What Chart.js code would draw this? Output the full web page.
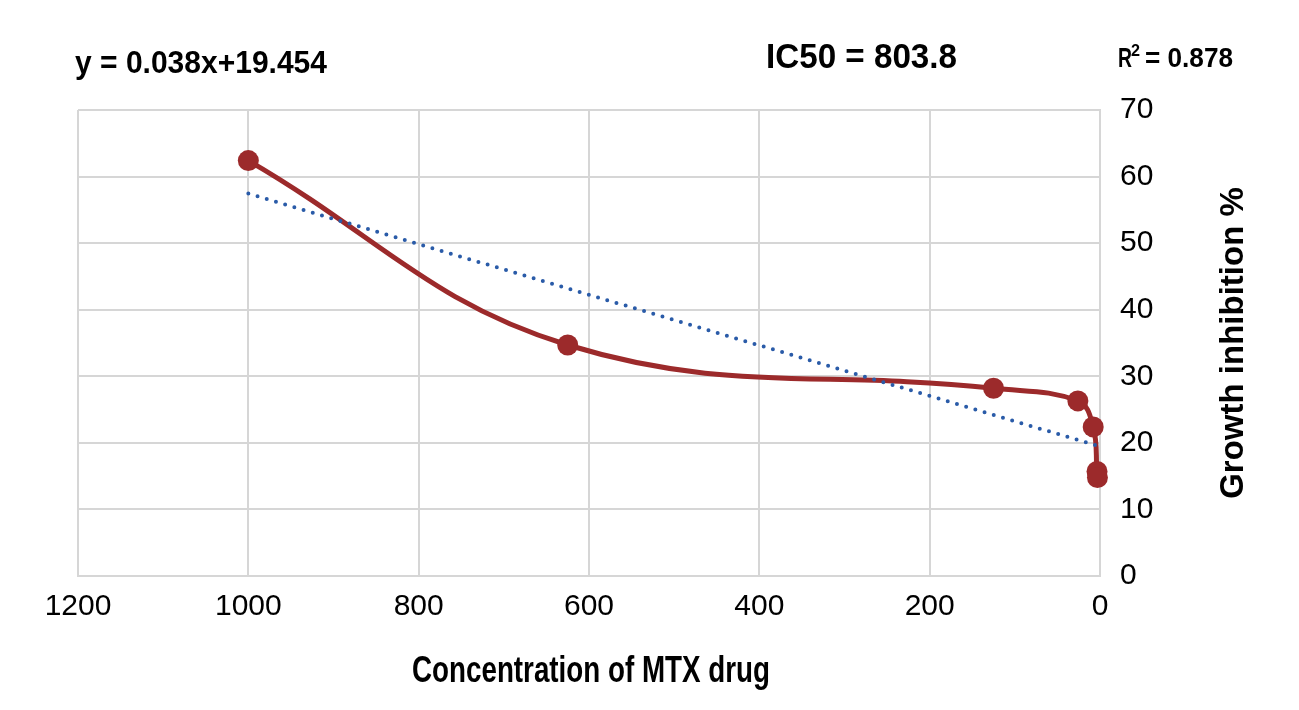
<!DOCTYPE html>
<html>
<head>
<meta charset="utf-8">
<script src="https://cdn.jsdelivr.net/npm/chart.js@4.4.1/dist/chart.umd.min.js"></script>
<style>
  html, body { margin: 0; padding: 0; background: #fff; }
  #wrap { width: 1299px; height: 710px; }
</style>
</head>
<body>
<div id="wrap"><canvas id="chart" width="1299" height="710"></canvas></div>
<script>
// values
const concentration = [1000, 625, 125, 26, 8, 3.5, 3];
const inhibition = [62.4, 34.7, 28.2, 26.3, 22.4, 15.7, 14.8];
// linear trendline end points
const trendX = [1000, 0];
const trendY = [57.45, 19.45];
const xTicks = [1200, 1000, 800, 600, 400, 200, 0];
const yTicks = [0, 10, 20, 30, 40, 50, 60, 70];
const equationText = 'y = 0.038x+19.454';
const ic50Text = 'IC50 = 803.8';
const r2Text = '0.878';
const xTitle = 'Concentration of MTX drug';
const yTitle = 'Growth inhibition %';

const RED = '#9c2a2b';
const BLUE = '#2a5ba8';
const GRID = '#d6d6d6';
const PLAIN = '"Liberation Sans", Arial, Helvetica, sans-serif';

// bold text squeezed horizontally to span the given width (condensed look)
function squeezed(ctx, text, x, y, size, width, align) {
  ctx.save();
  ctx.font = 'bold ' + size + 'px ' + PLAIN;
  const w = ctx.measureText(text).width;
  const sx = width / w;
  let left = x;
  if (align === 'center') left = x - width / 2;
  ctx.translate(left, y);
  ctx.scale(sx, 1);
  ctx.textAlign = 'left';
  ctx.fillText(text, 0, 0);
  ctx.restore();
  return width;
}

const annotations = {
  id: 'annotations',
  afterDraw(chart) {
    const ctx = chart.ctx;
    ctx.save();
    ctx.fillStyle = '#000';
    ctx.textBaseline = 'alphabetic';

    squeezed(ctx, equationText, 75, 73, 31, 252);
    squeezed(ctx, ic50Text, 766, 68, 35, 191);

    squeezed(ctx, 'R', 1118, 67, 28, 14);
    squeezed(ctx, '2', 1131, 56, 17, 9);
    squeezed(ctx, '= ' + r2Text, 1145, 67, 28, 88);

    // x axis title
    squeezed(ctx, xTitle, 591, 682, 36, 358, 'center');

    // y axis title, reads bottom to top
    ctx.translate(1234, 343);
    ctx.rotate(-Math.PI / 2);
    ctx.textAlign = 'center';
    ctx.textBaseline = 'middle';
    ctx.font = 'bold 33px ' + PLAIN;
    ctx.fillText(yTitle, 0, 0);
    ctx.restore();
  }
};

const dataPoints = concentration.map((c, i) => ({ x: c, y: inhibition[i] }));
const trendPoints = trendX.map((c, i) => ({ x: c, y: trendY[i] }));

new Chart(document.getElementById('chart'), {
  type: 'scatter',
  data: {
    datasets: [{
      label: 'trend',
      data: trendPoints,
      showLine: true,
      borderColor: BLUE,
      borderWidth: 4,
      borderDash: [0, 9.6],
      borderCapStyle: 'round',
      pointRadius: 0,
      order: 0,
    }, {
      label: 'inhibition',
      data: dataPoints,
      showLine: true,
      tension: 0.4,
      borderColor: RED,
      borderWidth: 5,
      pointRadius: 10.5,
      pointBackgroundColor: RED,
      pointBorderWidth: 0,
      clip: false,
      order: 1,
    }]
  },
  options: {
    responsive: false,
    animation: false,
    layout: { padding: { left: 78, top: 110, right: 0, bottom: 0 } },
    plugins: {
      legend: { display: false },
      tooltip: { enabled: false },
    },
    scales: {
      x: {
        type: 'linear',
        reverse: true,
        min: 0,
        max: 1200,
        afterBuildTicks: (scale) => { scale.ticks = xTicks.map(v => ({ value: v })); },
        afterFit: (scale) => { scale.height = 134; },
        grid: { color: GRID, lineWidth: 2, drawTicks: false },
        border: { color: GRID, width: 2 },
        ticks: {
          color: '#000',
          font: { family: PLAIN, size: 30 },
          padding: 13,
          maxRotation: 0,
          callback: (v) => String(v),
        },
      },
      y: {
        position: 'right',
        min: 0,
        max: 70,
        afterBuildTicks: (scale) => { scale.ticks = yTicks.map(v => ({ value: v })); },
        afterFit: (scale) => { scale.width = 199; },
        grid: { color: GRID, lineWidth: 2, drawTicks: false },
        border: { color: GRID, width: 2 },
        ticks: { color: '#000', font: { family: PLAIN, size: 30 }, padding: 20, callback: (v) => String(v) },
      },
    },
  },
  plugins: [annotations],
});
</script>
</body>
</html>
